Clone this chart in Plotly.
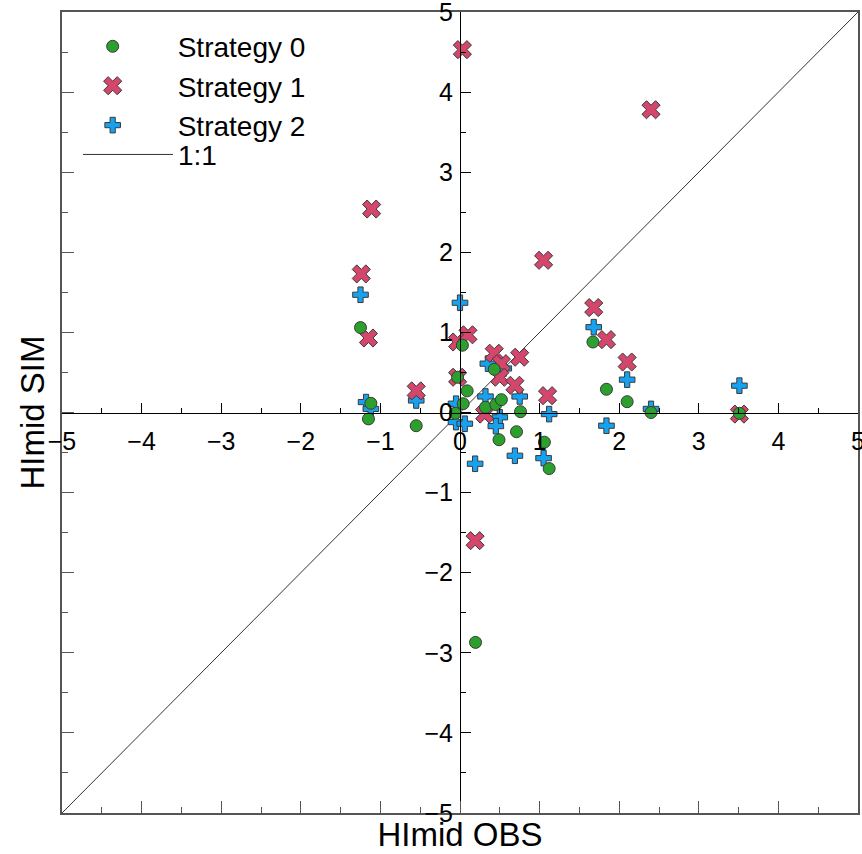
import plotly.graph_objects as go

# Observed vs simulated HImid for each strategy
s0_obs = [-1.25, -1.12, -1.15, -0.55, 0.03, -0.03, 0.09, 0.04, -0.06, 0.32, 0.45, 0.52,
          0.43, 0.76, 0.71, 0.49, 1.06, 1.12, 0.195, 1.67, 1.84, 2.10, 2.40, 3.51]
s0_sim = [1.06, 0.115, -0.08, -0.165, 0.84, 0.44, 0.27, 0.11, -0.01, 0.065, 0.10, 0.16,
          0.54, 0.01, -0.24, -0.34, -0.37, -0.70, -2.87, 0.88, 0.29, 0.135, 0.0, -0.01]

s1_obs = [-1.24, -1.11, -1.15, -0.55, -0.03, 0.10, -0.03, 0.03, 0.19, 0.31, 0.43, 0.52,
          0.50, 0.75, 0.69, 1.05, 1.10, 1.68, 1.84, 2.10, 2.40, 3.51]
s1_sim = [1.73, 2.54, 0.93, 0.27, 0.88, 0.97, 0.44, 4.53, -1.60, -0.02, 0.74, 0.61,
          0.44, 0.69, 0.34, 1.90, 0.21, 1.31, 0.91, 0.63, 3.78, -0.02]

s2_obs = [-1.25, -1.18, -1.12, -0.55, 0.0, -0.05, -0.05, 0.06, 0.19, 0.32, 0.35, 0.55,
          0.50, 0.45, 0.69, 0.75, 1.05, 1.12, 1.68, 1.84, 2.10, 2.40, 3.51]
s2_sim = [1.47, 0.13, 0.045, 0.15, 1.37, 0.11, -0.12, -0.14, -0.64, 0.20, 0.61, 0.55,
          -0.06, -0.17, -0.54, 0.20, -0.57, -0.02, 1.065, -0.165, 0.41, 0.045, 0.335]

line_1to1 = [-5, 5]
axis_range = [-5, 5]

FONT = "Liberation Sans, Arial, sans-serif"
EDGE = "#3a3a3a"

fig = go.Figure()

fig.add_trace(go.Scatter(
    x=line_1to1, y=line_1to1, mode="lines", name="1:1",
    line=dict(color="#333333", width=1), legend="legend2"))

fig.add_trace(go.Scatter(
    x=s2_obs, y=s2_sim, mode="markers", name="Strategy 2",
    marker=dict(symbol="cross", size=13, color="#16a2f0",
                line=dict(color=EDGE, width=1)), legendrank=3))

fig.add_trace(go.Scatter(
    x=s1_obs, y=s1_sim, mode="markers", name="Strategy 1",
    marker=dict(symbol="x", size=16, color="#d4466b",
                line=dict(color=EDGE, width=1)), legendrank=2))

fig.add_trace(go.Scatter(
    x=s0_obs, y=s0_sim, mode="markers", name="Strategy 0",
    marker=dict(symbol="circle", size=12, color="#2ca02c",
                line=dict(color=EDGE, width=1)), legendrank=1))

# empty trace so the crossing axes through the origin get drawn
fig.add_trace(go.Scatter(x=[], y=[], xaxis="x2", yaxis="y2",
                         showlegend=False, hoverinfo="skip"))

frame_common = dict(
    range=axis_range, showgrid=False, zeroline=False, automargin=False,
    showline=True, linecolor="#555555", linewidth=2, mirror=True,
    ticks="inside", ticklen=12, tickwidth=1, tickcolor="#555555", dtick=1, tick0=0,
    minor=dict(ticks="inside", ticklen=6, dtick=0.5, tickcolor="#555555", showgrid=False),
    showticklabels=False,
)

cross_common = dict(
    range=axis_range, showgrid=False, zeroline=False, automargin=False,
    showline=True, linecolor="black", linewidth=1,
    ticks="inside", ticklen=10, tickwidth=1, tickcolor="black", dtick=1, tick0=0,
    minor=dict(ticks="inside", ticklen=5, dtick=0.5, tickcolor="black", showgrid=False),
    tickfont=dict(family=FONT, size=25, color="black"),
    ticklabeloverflow="allow",
    anchor="free", position=0.5,
)

legend_font = dict(family=FONT, size=28, color="black")

fig.update_layout(
    width=862, height=854,
    margin=dict(l=62, r=4, t=12, b=41, autoexpand=False),
    paper_bgcolor="white", plot_bgcolor="white",
    font=dict(family=FONT, color="black"),
    xaxis=dict(**frame_common,
               title=dict(text="HImid OBS", font=dict(size=33), standoff=9)),
    yaxis=dict(**frame_common,
               title=dict(text="HImid SIM", font=dict(size=33), standoff=5)),
    xaxis2=dict(**cross_common, overlaying="x", side="bottom",
                ticklabelstandoff=6),
    yaxis2=dict(**cross_common, overlaying="y", side="left",
                ticklabelstandoff=2),
    legend=dict(x=-0.018, y=0.988, xanchor="left", yanchor="top",
                bgcolor="rgba(0,0,0,0)", borderwidth=0,
                itemwidth=120, font=legend_font),
    legend2=dict(x=0.0201, y=0.853, xanchor="left", yanchor="top",
                 bgcolor="rgba(0,0,0,0)", borderwidth=0,
                 itemwidth=90, font=legend_font),
    showlegend=True,
)

fig.write_html("out.html")
